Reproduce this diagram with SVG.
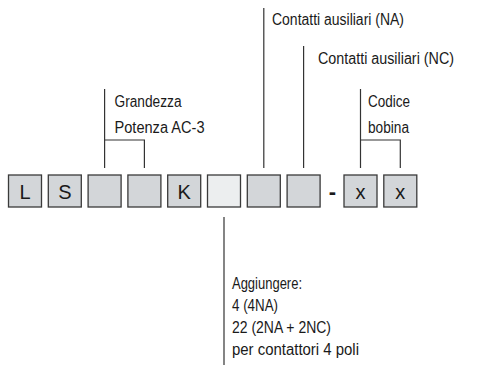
<svg xmlns="http://www.w3.org/2000/svg" width="492" height="365" viewBox="0 0 492 365">
<style>
.box{fill:#d3d6d9;stroke:#3a3a3a;stroke-width:1.3}
.lt{fill:#eceeef}
.ln{fill:none;stroke:#333;stroke-width:1.2}
.t{font-family:"Liberation Sans",Arial,sans-serif;font-size:16px;fill:#1a1a1a}
.bt{font-family:"Liberation Sans",Arial,sans-serif;font-size:20px;fill:#1a1a1a;text-anchor:middle}
</style>
<rect width="492" height="365" fill="#fff"/>
<g id="connectors">
<path class="ln" d="M104.6 89V168M104.6 140H144.4V168"/>
<path class="ln" d="M263.8 8V168"/>
<path class="ln" d="M303.6 46V168"/>
<path class="ln" d="M360.5 89V168M360.5 140H400.3V168"/>
<path class="ln" d="M224 217V365"/>
</g>
<g id="code">
<g id="b1"><rect class="box" x="8.5" y="175" width="33" height="32"/><text class="bt" x="25" y="198.5">L</text></g>
<g id="b2"><rect class="box" x="48.3" y="175" width="33" height="32"/><text class="bt" x="64.8" y="198.5">S</text></g>
<g id="b3"><rect class="box" x="88.1" y="175" width="33" height="32"/></g>
<g id="b4"><rect class="box" x="127.9" y="175" width="33" height="32"/></g>
<g id="b5"><rect class="box" x="167.7" y="175" width="33" height="32"/><text class="bt" x="184.2" y="198.5">K</text></g>
<g id="b6"><rect class="box lt" x="207.5" y="175" width="33" height="32"/></g>
<g id="b7"><rect class="box" x="247.3" y="175" width="33" height="32"/></g>
<g id="b8"><rect class="box" x="287.1" y="175" width="33" height="32"/></g>
<g id="dash"><text class="bt" x="332.5" y="199" style="font-weight:bold;font-size:22px">-</text></g>
<g id="b9"><rect class="box" x="344" y="175" width="33" height="32"/><text class="bt" x="360.5" y="198.5">x</text></g>
<g id="b10"><rect class="box" x="383.8" y="175" width="33" height="32"/><text class="bt" x="400.3" y="198.5">x</text></g>
</g>
<g id="label-na"><text class="t" x="272" y="24.5" textLength="132" lengthAdjust="spacingAndGlyphs">Contatti ausiliari (NA)</text></g>
<g id="label-nc"><text class="t" x="318" y="63.5" textLength="136" lengthAdjust="spacingAndGlyphs">Contatti ausiliari (NC)</text></g>
<g id="label-grandezza">
<text class="t" x="114.5" y="107" textLength="67" lengthAdjust="spacingAndGlyphs">Grandezza</text>
<text class="t" x="114.5" y="133" textLength="90" lengthAdjust="spacingAndGlyphs">Potenza AC-3</text>
</g>
<g id="label-bobina">
<text class="t" x="368" y="107" textLength="42" lengthAdjust="spacingAndGlyphs">Codice</text>
<text class="t" x="368" y="133" textLength="41" lengthAdjust="spacingAndGlyphs">bobina</text>
</g>
<g id="label-aggiungere">
<text class="t" x="232" y="288.5" textLength="70" lengthAdjust="spacingAndGlyphs">Aggiungere:</text>
<text class="t" x="232" y="310.7" textLength="46" lengthAdjust="spacingAndGlyphs">4 (4NA)</text>
<text class="t" x="232" y="332.8" textLength="99" lengthAdjust="spacingAndGlyphs">22 (2NA + 2NC)</text>
<text class="t" x="232" y="355" textLength="127" lengthAdjust="spacingAndGlyphs">per contattori 4 poli</text>
</g>
</svg>
